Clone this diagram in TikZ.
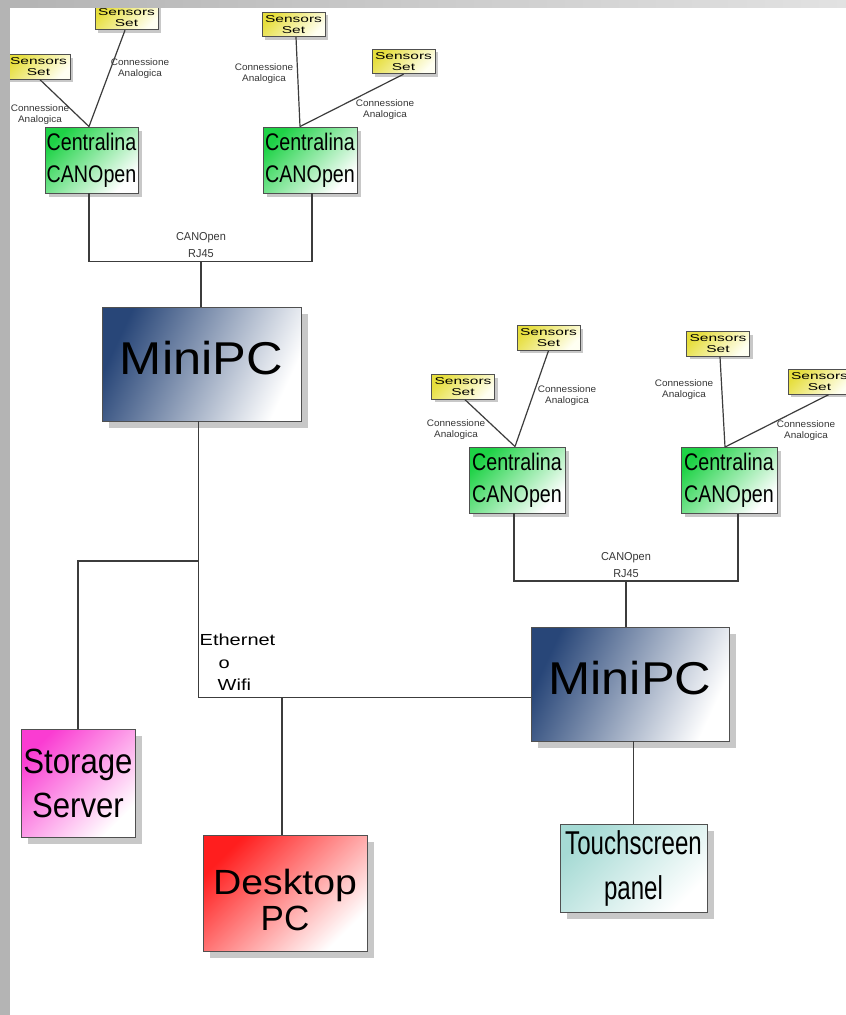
\documentclass[tikz,border=0pt]{standalone}
\usepackage{fontspec}
\setmainfont{Liberation Sans}
\usepackage{graphicx}
\usetikzlibrary{shadows,calc}
\definecolor{sensY}{RGB}{230,222,60}
\definecolor{cenG}{RGB}{30,210,70}
\definecolor{mpcB}{RGB}{40,70,120}
\definecolor{stoM}{RGB}{250,60,210}
\definecolor{dskR}{RGB}{255,30,30}
\definecolor{tchC}{RGB}{165,218,212}
\definecolor{boxline}{RGB}{80,80,80}
\definecolor{connline}{RGB}{60,60,60}
\definecolor{labtext}{RGB}{55,55,55}
\definecolor{stripA}{RGB}{180,180,180}
\definecolor{stripB}{RGB}{226,226,226}
\definecolor{shadowC}{RGB}{200,200,200}
\newcommand{\hsc}[2]{\scalebox{#1}[1]{#2}}
\begin{document}
\begin{tikzpicture}[x=1pt,y=-1pt,
  boxbase/.style={draw=boxline, line width=0.9pt, inner sep=0pt, align=center, text=black},
  shad/.style={drop shadow={shadow xshift=#1, shadow yshift=-#1, fill=shadowC, opacity=1}},
  sensor/.style={boxbase, minimum width=63pt, minimum height=24.5pt,
    top color=sensY, bottom color=white!95!yellow, shading angle=45, shad=3pt,
    font=\fontsize{10}{11}\selectfont},
  central/.style={boxbase, minimum height=66pt,
    top color=cenG, bottom color=white, shading angle=45, shad=3.5pt,
    font=\fontsize{24}{32}\selectfont},
  minipc/.style={boxbase, minimum width=198pt, minimum height=114pt,
    top color=mpcB, bottom color=white, shading angle=65, shad=7pt,
    font=\fontsize{46}{50}\selectfont},
  storage/.style={boxbase, minimum width=114pt, minimum height=108pt,
    top color=stoM, bottom color=white, shading angle=45, shad=7pt,
    font=\fontsize{35}{44}\selectfont},
  desktop/.style={boxbase, minimum width=164pt, minimum height=116pt,
    top color=dskR, bottom color=white, shading angle=45, shad=7pt,
    font=\fontsize{35}{36}\selectfont},
  touch/.style={boxbase, minimum width=147pt, minimum height=88pt,
    top color=tchC, bottom color=white, shading angle=45, shad=7pt,
    font=\fontsize{33}{45}\selectfont},
  conn/.style={draw=connline, line width=1.2pt},
  clabel/.style={inner sep=0pt, align=center, text=labtext, font=\fontsize{9.5}{11}\selectfont},
  blabel/.style={inner sep=0pt, align=center, text=labtext, font=\fontsize{11.5}{17}\selectfont},
  elabel/.style={inner sep=0pt, align=left, text=black, font=\fontsize{16}{22.5}\selectfont}
]
\useasboundingbox (0,0) rectangle (846,1015);
\clip (0,0) rectangle (846,1015);
\fill[white] (0,0) rectangle (846,1015);

% sensor sets
\node[sensor] (SA) at (126.5,17.5) {\hsc{1.55}{Sensors}\\\hsc{1.55}{Set}};
\node[sensor] (SB) at (38.5,67) {\hsc{1.55}{Sensors}\\\hsc{1.55}{Set}};
\node[sensor] (SC) at (293.5,24.5) {\hsc{1.55}{Sensors}\\\hsc{1.55}{Set}};
\node[sensor] (SD) at (403.5,61.5) {\hsc{1.55}{Sensors}\\\hsc{1.55}{Set}};
\node[sensor] (SE) at (548.5,338) {\hsc{1.55}{Sensors}\\\hsc{1.55}{Set}};
\node[sensor] (SF) at (463,387) {\hsc{1.55}{Sensors}\\\hsc{1.55}{Set}};
\node[sensor] (SG) at (718,344) {\hsc{1.55}{Sensors}\\\hsc{1.55}{Set}};
\node[sensor] (SH) at (819.5,382) {\hsc{1.55}{Sensors}\\\hsc{1.55}{Set}};

% centraline
\node[central, minimum width=93pt] (C1) at (91.5,160) {\hsc{0.82}{Centralina}\\\hsc{0.82}{CANOpen}};
\node[central, minimum width=94pt] (C2) at (310,160) {\hsc{0.82}{Centralina}\\\hsc{0.82}{CANOpen}};
\node[central, minimum width=96pt] (C3) at (517,480) {\hsc{0.82}{Centralina}\\\hsc{0.82}{CANOpen}};
\node[central, minimum width=96pt] (C4) at (729,480.5) {\hsc{0.82}{Centralina}\\\hsc{0.82}{CANOpen}};

% main boxes
\node[minipc, minimum width=199pt] (M1) at (201.5,364) {\raisebox{6pt}[\height][\depth]{\hsc{1.1}{MiniPC}}};
\node[minipc] (M2) at (630,684) {\raisebox{6pt}[\height][\depth]{\hsc{1.1}{MiniPC}}};
\node[storage] (ST) at (78,783) {\hsc{0.89}{Storage}\\\hsc{0.89}{Server}};
\node[desktop] (DP) at (285,893) {\raisebox{-12pt}[\height][\depth]{\begin{tabular}{@{}c@{}}\hsc{1.12}{Desktop}\\PC\end{tabular}}};
\node[touch] (TP) at (633.5,868) {\hsc{0.73}{Touchscreen}\\\hsc{0.73}{panel}};

% sensor connections
\draw[conn] ([xshift=-1.5pt]SA.south) -- ([xshift=-2.5pt]C1.north);
\draw[conn] ([xshift=1.5pt]SB.south) -- ([xshift=-2.5pt]C1.north);
\draw[conn] ([xshift=2.5pt]SC.south) -- ([xshift=-10pt]C2.north);
\draw[conn] (SD.south) -- ([xshift=-10pt]C2.north);
\draw[conn] (SE.south) -- ([xshift=-2pt]C3.north);
\draw[conn] ([xshift=2pt]SF.south) -- ([xshift=-2pt]C3.north);
\draw[conn] ([xshift=2pt]SG.south) -- ([xshift=-4pt]C4.north);
\draw[conn] ([xshift=9pt]SH.south) -- ([xshift=-4pt]C4.north);

\node[clabel] (LA) at (140,69) {\hsc{1.05}{Connessione}\\\hsc{1.05}{Analogica}};
\node[clabel] (LB) at (40,115) {\hsc{1.05}{Connessione}\\\hsc{1.05}{Analogica}};
\node[clabel] (LC) at (264,74) {\hsc{1.05}{Connessione}\\\hsc{1.05}{Analogica}};
\node[clabel] (LD) at (385,110) {\hsc{1.05}{Connessione}\\\hsc{1.05}{Analogica}};
\node[clabel] (LE) at (567,396) {\hsc{1.05}{Connessione}\\\hsc{1.05}{Analogica}};
\node[clabel] (LF) at (456,430) {\hsc{1.05}{Connessione}\\\hsc{1.05}{Analogica}};
\node[clabel] (LG) at (684,390) {\hsc{1.05}{Connessione}\\\hsc{1.05}{Analogica}};
\node[clabel] (LH) at (806,431) {\hsc{1.05}{Connessione}\\\hsc{1.05}{Analogica}};

% CANOpen buses
\coordinate (b1) at (201,261.5);
\draw[conn] ([xshift=-2.5pt]C1.south) |- (b1) -| ([xshift=2pt]C2.south);
\draw[conn] (b1) -- (b1 |- M1.north);
\node[blabel] (L1) at (201,245) {\hsc{0.95}{CANOpen}\\\hsc{0.95}{RJ45}};

\coordinate (b2) at (626,581);
\draw[conn] ([xshift=-3pt]C3.south) |- (b2) -| ([xshift=9pt]C4.south);
\draw[conn] (b2) -- (b2 |- M2.north);
\node[blabel] (L2) at (626,565.5) {\hsc{0.95}{CANOpen}\\\hsc{0.95}{RJ45}};

% network
\coordinate (j1) at (198.5,561);
\coordinate (j2) at (198.5,697.5);
\coordinate (j3) at (282,697.5);
\draw[conn] (M1.south -| j1) -- (j2) -- (j2 -| M2.west);
\draw[conn] (j1) -| (ST.north);
\draw[conn] (j3) -- (j3 |- DP.north);
\draw[conn] (M2.south -| TP.north) -- (TP.north);
\node[elabel, anchor=north west] (LN) at (199.5,634) {\hsc{1.25}{Ethernet}\\\hspace*{19pt}\hsc{1.25}{o}\\\hspace*{18pt}\hsc{1.25}{Wifi}};

% page edges
\fill[stripA] (0,0) rectangle (10,1015);
\shade[left color=stripA, right color=stripB] (10,0) rectangle (846,7);
\end{tikzpicture}
\end{document}
